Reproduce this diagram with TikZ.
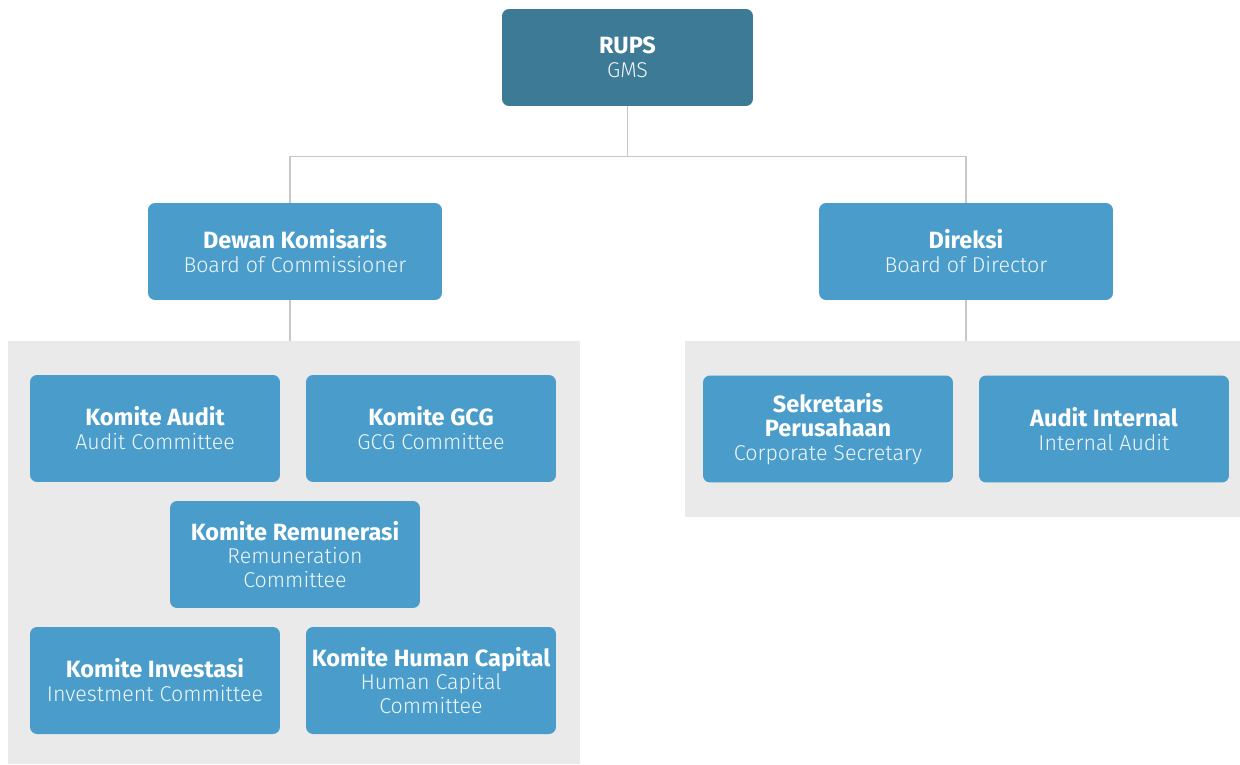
\documentclass[tikz,border=0pt]{standalone}
\usepackage{fontspec}
\setmainfont{Fira Sans}
\newfontfamily\lightfont{Fira Sans Light}
\usepackage{tikz}
\usepackage{xcolor}
\usetikzlibrary{positioning,calc}
\definecolor{gmsteal}{HTML}{3D7A96}
\definecolor{orgblue}{HTML}{4A9DCA}
\definecolor{panelgray}{HTML}{EAEAEA}
\definecolor{linkgray}{HTML}{C8C8C8}
\newcommand{\headline}[1]{{\fontsize{13.4}{14}\selectfont\bfseries #1}}
\newcommand{\subline}[1]{{\lightfont\fontsize{12.2}{13.6}\selectfont\color{white!92!orgblue}#1}}

\begin{document}
\begin{tikzpicture}[
  x=0.02cm, y=-0.02cm,
  unit/.style={rectangle, rounded corners=4pt, fill=orgblue, text=white, align=center,
    inner sep=1pt, font=\fontsize{12.2}{13.6}\selectfont},
  topunit/.style={unit, minimum width=5.88cm, minimum height=1.94cm},
  committee/.style={unit, minimum width=5cm, minimum height=2.14cm},
  panel/.style={rectangle, fill=panelgray, inner sep=0pt},
  link/.style={draw=linkgray, line width=0.6pt},
]
\useasboundingbox (0,0) rectangle (1240,764);
% grey backgrounds behind the committees
\node[panel, minimum width=11.44cm, minimum height=8.46cm] (leftpanel) at (294,552.5) {};
\node[panel, minimum width=11.10cm, minimum height=3.52cm] (rightpanel) at (962.5,429) {};

% top level
\node[unit, fill=gmsteal, minimum width=5.02cm, minimum height=1.94cm] (rups) at (627.5,57.5)
  {\headline{RUPS}\\\subline{GMS}};
\node[topunit] (dekom) at (295,251.5) {\headline{Dewan Komisaris}\\\subline{Board of Commissioner}};
\node[topunit] (direksi) at (966,251.5) {\headline{Direksi}\\\subline{Board of Director}};

% committees under the board of commissioners
\node[committee] (audit) at (155,428.5) {\headline{Komite Audit}\\\subline{Audit Committee}};
\node[committee] (gcg) at (431,428.5) {\headline{Komite GCG}\\\subline{GCG Committee}};
\node[committee] (remun) at (295,554.5) {\headline{Komite Remunerasi}\\\subline{Remuneration}\\\subline{Committee}};
\node[committee] (invest) at (155,680.5) {\headline{Komite Investasi}\\\subline{Investment Committee}};
\node[committee] (humcap) at (431,680.5) {\headline{Komite Human Capital}\\\subline{Human Capital}\\\subline{Committee}};

% units under the directors
\node[committee] (sekper) at (828,429) {\headline{Sekretaris}\\\headline{Perusahaan}\\\subline{Corporate Secretary}};
\node[committee] (spi) at (1104,429) {\headline{Audit Internal}\\\subline{Internal Audit}};

% connectors
\draw[link] (rups.south) -- ++(0,50) -| ([xshift=-0.1cm]dekom.north);
\draw[link] (rups.south) -- ++(0,50) -| (direksi.north);
\draw[link] ([xshift=-0.1cm]dekom.south) -- ([xshift=-0.1cm]dekom.south |- leftpanel.north);
\draw[link] (direksi.south) -- (direksi.south |- rightpanel.north);
\end{tikzpicture}
\end{document}
